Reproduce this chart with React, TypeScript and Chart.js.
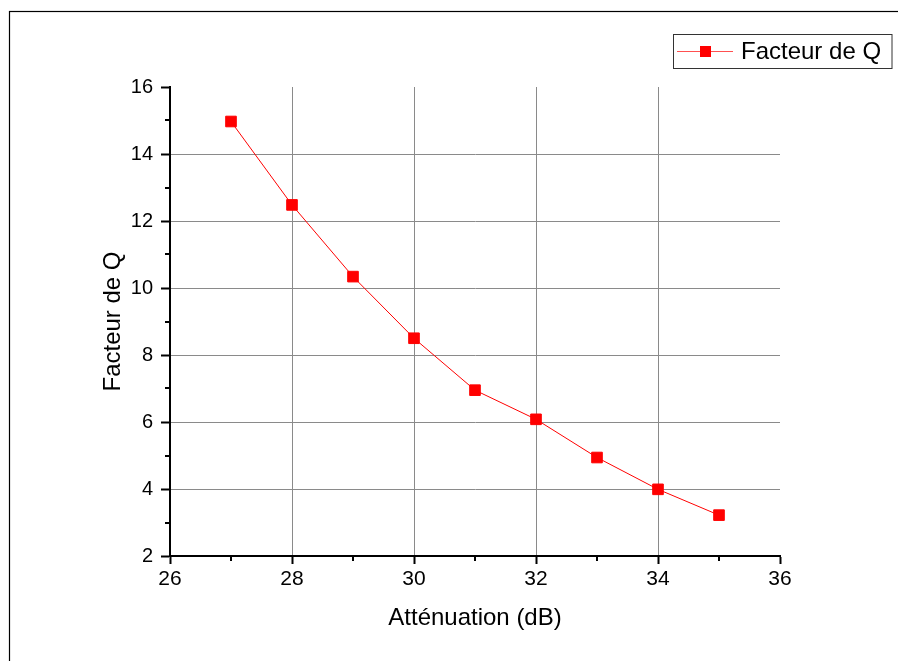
import { useEffect, useRef } from "react";
import { Chart, registerables } from "chart.js";
Chart.register(...registerables);

const attenuation = [27, 28, 29, 30, 31, 32, 33, 34, 35];
const facteurQ = [14.97, 12.48, 10.34, 8.5, 6.95, 6.08, 4.94, 3.99, 3.22];
const xTicks = [26, 28, 30, 32, 34, 36];
const yTicks = [2, 4, 6, 8, 10, 12, 14, 16];
const xMinor = [27, 29, 31, 33, 35];
const yMinor = [3, 5, 7, 9, 11, 13, 15];
const seriesLabel = "Facteur de Q";
const xTitle = "Atténuation (dB)";
const yTitle = "Facteur de Q";

const FONT = "'Liberation Sans', Arial, sans-serif";
const RED = "#ff0000";

const extras = {
  id: "extras",
  afterDraw(chart: any) {
    const ctx = chart.ctx as CanvasRenderingContext2D;
    const xs = chart.scales.x;
    const ys = chart.scales.y;
    const area = chart.chartArea;
    ctx.save();
    // outer frame
    ctx.strokeStyle = "#000";
    ctx.lineWidth = 1.2;
    ctx.strokeRect(9.5, 11.5, 2000, 2000);
    // minor ticks
    ctx.lineWidth = 2;
    ctx.beginPath();
    for (const v of xMinor) {
      const px = Math.round(xs.getPixelForValue(v));
      ctx.moveTo(px, area.bottom);
      ctx.lineTo(px, area.bottom + 5);
    }
    for (const v of yMinor) {
      const py = Math.round(ys.getPixelForValue(v));
      ctx.moveTo(area.left, py);
      ctx.lineTo(area.left - 5, py);
    }
    ctx.stroke();
    // legend
    const lx = 673.5, ly = 34.5, lw = 218.5, lh = 34;
    ctx.fillStyle = "#fff";
    ctx.fillRect(lx, ly, lw, lh);
    ctx.strokeStyle = "#333";
    ctx.lineWidth = 1;
    ctx.strokeRect(lx, ly, lw, lh);
    const cy = ly + lh / 2;
    ctx.strokeStyle = "#ff5050";
    ctx.beginPath();
    ctx.moveTo(677, cy);
    ctx.lineTo(733, cy);
    ctx.stroke();
    ctx.fillStyle = RED;
    ctx.fillRect(700, cy - 5.5, 11, 11);
    ctx.fillStyle = "#000";
    ctx.font = `24px ${FONT}`;
    ctx.textBaseline = "middle";
    ctx.textAlign = "left";
    ctx.fillText(seriesLabel, 741, cy + 1);
    ctx.restore();
  },
};

export default function App() {
  const ref = useRef<HTMLCanvasElement>(null);
  useEffect(() => {
    if (!ref.current) return;
    const chart = new Chart(ref.current, {
      type: "line",
      data: {
        datasets: [
          {
            label: seriesLabel,
            data: attenuation.map((x, i) => ({ x, y: facteurQ[i] })),
            borderColor: RED,
            backgroundColor: RED,
            borderWidth: 1,
            pointStyle: "rect",
            pointRadius: 7.5,
            pointBackgroundColor: RED,
            pointBorderColor: RED,
            pointBorderWidth: 1,
            tension: 0,
          },
        ],
      },
      options: {
        responsive: false,
        animation: false,
        layout: { padding: { left: 99, top: 87, right: 118, bottom: 28 } },
        plugins: { legend: { display: false }, tooltip: { enabled: false } },
        scales: {
          x: {
            type: "linear",
            min: 26,
            max: 36,
            afterBuildTicks: (s: any) => {
              s.ticks = xTicks.map((v) => ({ value: v }));
            },
            afterFit: (s: any) => {
              s.height = 77;
            },
            ticks: {
              color: "#000",
              font: { family: FONT, size: 21 },
              padding: 3,
              maxRotation: 0,
              autoSkip: false,
            },
            grid: {
              color: (c: any) =>
                c.tick && (c.tick.value === 26 || c.tick.value === 36) ? "rgba(0,0,0,0)" : "#8a8a8a",
              lineWidth: 1,
              tickColor: "#000",
              tickLength: 8,
              tickWidth: 2,
            },
            border: { color: "#000", width: 2 },
            title: {
              display: true,
              text: xTitle,
              color: "#000",
              font: { family: FONT, size: 24 },
              padding: { top: 0, bottom: 0 },
            },
          },
          y: {
            type: "linear",
            min: 2,
            max: 16,
            afterBuildTicks: (s: any) => {
              s.ticks = yTicks.map((v) => ({ value: v }));
            },
            afterFit: (s: any) => {
              s.width = 71;
            },
            ticks: {
              color: "#000",
              font: { family: FONT, size: 20 },
              padding: 8,
              autoSkip: false,
            },
            grid: {
              color: (c: any) =>
                c.tick && (c.tick.value === 2 || c.tick.value === 16) ? "rgba(0,0,0,0)" : "#8a8a8a",
              lineWidth: 1,
              tickColor: "#000",
              tickLength: 9,
              tickWidth: 2,
            },
            border: { color: "#000", width: 2 },
            title: {
              display: true,
              text: yTitle,
              color: "#000",
              font: { family: FONT, size: 24 },
              padding: { top: 0, bottom: 0 },
            },
          },
        },
      },
      plugins: [extras],
    });
    return () => chart.destroy();
  }, []);
  return (
    <div style={{ position: "absolute", left: 0, top: 0, width: 898, height: 661, background: "#fff" }}>
      <canvas ref={ref} width={898} height={661} style={{ display: "block" }} />
    </div>
  );
}
